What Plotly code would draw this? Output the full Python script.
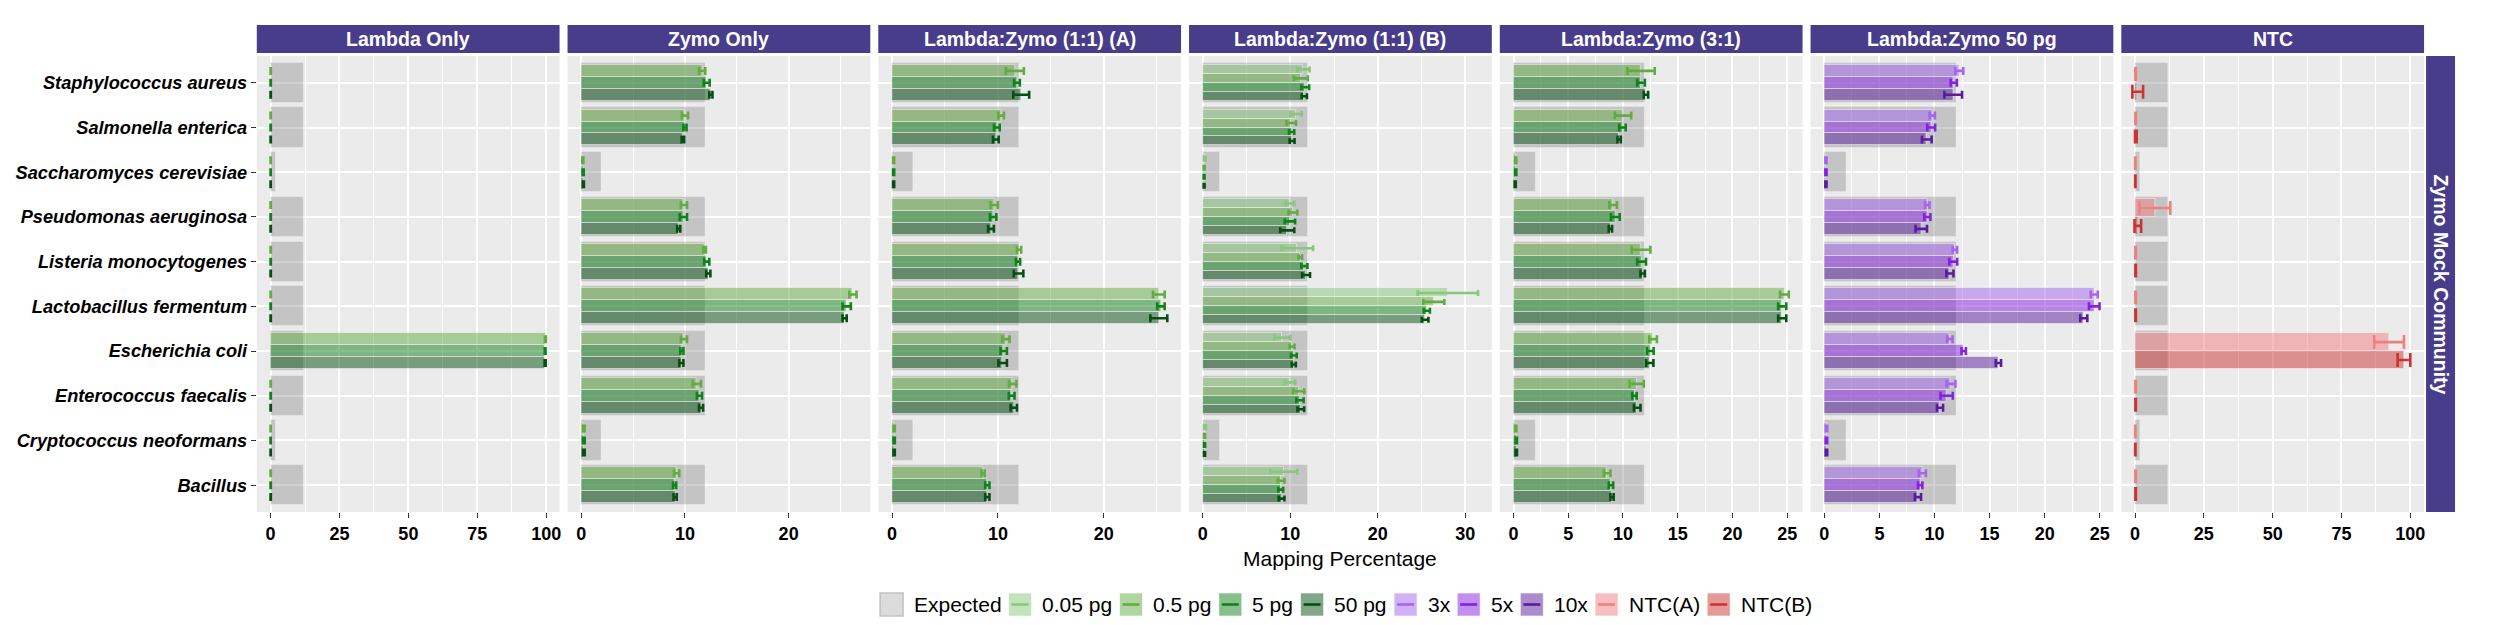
import plotly.graph_objects as go
from plotly.subplots import make_subplots

# ---------------- data ----------------
species = ["Staphylococcus aureus", "Salmonella enterica", "Saccharomyces cerevisiae",
           "Pseudomonas aeruginosa", "Listeria monocytogenes", "Lactobacillus fermentum",
           "Escherichia coli", "Enterococcus faecalis", "Cryptococcus neoformans", "Bacillus"]
expected = [12, 12, 2, 12, 12, 12, 12, 12, 2, 12]

panel_names = ["Lambda Only", "Zymo Only", "Lambda:Zymo (1:1) (A)", "Lambda:Zymo (1:1) (B)",
               "Lambda:Zymo (3:1)", "Lambda:Zymo 50 pg", "NTC"]
panel_dtick = [25, 10, 10, 10, 5, 5, 25]

# Lambda Only
lo_05 = [0.05, 0.05, 0.03, 0.05, 0.05, 0.05, 99.7, 0.05, 0.03, 0.05]
lo_05_sd = [0.05, 0.05, 0.03, 0.05, 0.05, 0.05, 0.15, 0.05, 0.03, 0.05]
lo_5 = [0.05, 0.05, 0.03, 0.05, 0.05, 0.05, 99.6, 0.05, 0.03, 0.05]
lo_5_sd = [0.05, 0.05, 0.03, 0.05, 0.05, 0.05, 0.15, 0.05, 0.03, 0.05]
lo_50 = [0.05, 0.05, 0.03, 0.05, 0.05, 0.05, 99.6, 0.05, 0.03, 0.05]
lo_50_sd = [0.05, 0.05, 0.03, 0.05, 0.05, 0.05, 0.2, 0.05, 0.03, 0.05]

# Zymo Only
zo_05 = [11.66, 10.0, 0.15, 9.9, 11.9, 26.2, 9.9, 11.15, 0.25, 9.2]
zo_05_sd = [0.3, 0.3, 0.05, 0.3, 0.12, 0.35, 0.3, 0.4, 0.08, 0.25]
zo_5 = [12.1, 10.0, 0.18, 9.85, 12.1, 25.6, 9.7, 11.4, 0.25, 9.0]
zo_5_sd = [0.28, 0.15, 0.05, 0.35, 0.25, 0.4, 0.15, 0.25, 0.08, 0.15]
zo_50 = [12.5, 9.8, 0.2, 9.4, 12.25, 25.4, 9.65, 11.55, 0.25, 9.05]
zo_50_sd = [0.15, 0.12, 0.05, 0.15, 0.2, 0.2, 0.2, 0.2, 0.08, 0.15]

# Lambda:Zymo (1:1) (A)
a_05 = [11.6, 10.3, 0.15, 9.65, 12.0, 25.2, 10.75, 11.4, 0.2, 8.6]
a_05_sd = [0.85, 0.27, 0.05, 0.35, 0.2, 0.55, 0.35, 0.35, 0.06, 0.15]
a_5 = [11.8, 9.9, 0.15, 9.55, 11.9, 25.4, 10.55, 11.3, 0.2, 9.0]
a_5_sd = [0.27, 0.27, 0.05, 0.3, 0.2, 0.35, 0.3, 0.27, 0.06, 0.2]
a_50 = [12.2, 9.8, 0.15, 9.35, 11.95, 25.2, 10.45, 11.5, 0.2, 9.0]
a_50_sd = [0.75, 0.27, 0.05, 0.27, 0.45, 0.8, 0.4, 0.3, 0.06, 0.2]

# Lambda:Zymo (1:1) (B)
b_005 = [11.5, 10.65, 0.23, 9.95, 10.8, 28.0, 9.1, 9.95, 0.25, 9.25]
b_005_sd = [0.7, 0.65, 0.1, 0.5, 1.8, 3.45, 0.9, 0.6, 0.1, 1.55]
b_05 = [11.2, 10.1, 0.15, 10.3, 11.15, 26.4, 10.2, 10.95, 0.2, 8.95]
b_05_sd = [0.8, 0.55, 0.05, 0.5, 0.2, 1.2, 0.28, 0.65, 0.06, 0.38]
b_5 = [11.7, 10.15, 0.15, 9.95, 11.6, 25.6, 10.4, 11.1, 0.2, 8.9]
b_5_sd = [0.45, 0.3, 0.05, 0.6, 0.35, 0.35, 0.33, 0.42, 0.06, 0.28]
b_50 = [11.6, 10.2, 0.15, 9.65, 11.8, 25.4, 10.4, 11.2, 0.2, 9.0]
b_50_sd = [0.3, 0.28, 0.05, 0.8, 0.45, 0.38, 0.23, 0.38, 0.06, 0.33]

# Lambda:Zymo (3:1)
c_05 = [11.65, 10.0, 0.2, 9.1, 11.65, 24.75, 12.75, 11.25, 0.2, 8.55]
c_05_sd = [1.25, 0.75, 0.05, 0.35, 0.85, 0.4, 0.35, 0.65, 0.06, 0.3]
c_5 = [11.65, 9.95, 0.2, 9.3, 11.7, 24.55, 12.5, 11.05, 0.25, 8.9]
c_5_sd = [0.35, 0.3, 0.05, 0.4, 0.4, 0.37, 0.3, 0.2, 0.06, 0.2]
c_50 = [12.1, 9.65, 0.15, 8.85, 11.8, 24.55, 12.45, 11.3, 0.25, 9.0]
c_50_sd = [0.2, 0.15, 0.05, 0.15, 0.2, 0.37, 0.33, 0.3, 0.06, 0.15]

# Lambda:Zymo 50 pg
d_3x = [12.25, 9.8, 0.15, 9.35, 11.85, 24.5, 11.4, 11.5, 0.2, 8.9]
d_3x_sd = [0.36, 0.24, 0.05, 0.2, 0.2, 0.32, 0.24, 0.4, 0.06, 0.32]
d_5x = [11.75, 9.7, 0.15, 9.35, 11.7, 24.5, 12.65, 11.1, 0.2, 8.7]
d_5x_sd = [0.28, 0.36, 0.05, 0.28, 0.36, 0.48, 0.2, 0.56, 0.06, 0.2]
d_10x = [11.7, 9.3, 0.15, 8.8, 11.4, 23.55, 15.8, 10.5, 0.2, 8.5]
d_10x_sd = [0.8, 0.44, 0.05, 0.52, 0.32, 0.32, 0.24, 0.28, 0.06, 0.28]

# NTC
n_a = [0.2, 0.2, 0.1, 7.2, 0.2, 0.2, 92.3, 0.2, 0.1, 0.2]
n_a_sd = [0.1, 0.1, 0.05, 5.6, 0.1, 0.1, 5.4, 0.1, 0.05, 0.1]
n_b = [0.97, 0.3, 0.1, 1.0, 0.2, 0.2, 97.7, 0.2, 0.1, 0.2]
n_b_sd = [1.95, 0.3, 0.05, 1.2, 0.1, 0.1, 2.3, 0.1, 0.05, 0.1]

panel_series = [
    [("0.5 pg", lo_05, lo_05_sd), ("5 pg", lo_5, lo_5_sd), ("50 pg", lo_50, lo_50_sd)],
    [("0.5 pg", zo_05, zo_05_sd), ("5 pg", zo_5, zo_5_sd), ("50 pg", zo_50, zo_50_sd)],
    [("0.5 pg", a_05, a_05_sd), ("5 pg", a_5, a_5_sd), ("50 pg", a_50, a_50_sd)],
    [("0.05 pg", b_005, b_005_sd), ("0.5 pg", b_05, b_05_sd), ("5 pg", b_5, b_5_sd), ("50 pg", b_50, b_50_sd)],
    [("0.5 pg", c_05, c_05_sd), ("5 pg", c_5, c_5_sd), ("50 pg", c_50, c_50_sd)],
    [("3x", d_3x, d_3x_sd), ("5x", d_5x, d_5x_sd), ("10x", d_10x, d_10x_sd)],
    [("NTC(A)", n_a, n_a_sd), ("NTC(B)", n_b, n_b_sd)],
]

legend_order = ["Expected", "0.05 pg", "0.5 pg", "5 pg", "50 pg", "3x", "5x", "10x", "NTC(A)", "NTC(B)"]
series_rgb = {
    "0.05 pg": (136, 200, 124),
    "0.5 pg": (98, 172, 66),
    "5 pg": (16, 130, 26),
    "50 pg": (6, 78, 18),
    "3x": (165, 101, 240),
    "5x": (132, 34, 226),
    "10x": (88, 28, 158),
    "NTC(A)": (240, 128, 128),
    "NTC(B)": (205, 51, 51),
}

# ---------------- style ----------------
W, H = 2500, 625
left0, pw, gap = 257, 303, 8
ptop, pbot = 56, 512
strip_top, strip_bot = 25, 53
STRIP = "#483D8B"
SANS = "Liberation Sans, Arial, Helvetica, sans-serif"

fig = make_subplots(rows=1, cols=7, shared_yaxes=True)

cat_order = species[::-1]
for p, series in enumerate(panel_series):
    col = p + 1
    fig.add_trace(go.Bar(
        x=expected, y=species, orientation="h", width=0.9, name="Expected",
        showlegend=False,
        marker=dict(color="rgba(127,127,127,0.36)", line=dict(color="rgba(255,255,255,0.25)", width=1)),
        hoverinfo="x+y"), row=1, col=col)
    n = len(series)
    w = 0.8 / n
    cap = {2: 7, 3: 4, 4: 3}[n]
    for j, (name, vals, sd) in enumerate(series):
        r, g, b = series_rgb[name]
        fig.add_trace(go.Bar(
            x=vals, y=species, orientation="h", width=w, offset=0.4 - (j + 1) * w,
            name=name, showlegend=False,
            marker=dict(color=f"rgba({r},{g},{b},0.5)",
                        line=dict(color="rgba(255,255,255,0.45)", width=1)),
            error_x=dict(type="data", array=sd, visible=True, color=f"rgb({r},{g},{b})",
                         thickness=2.6, width=cap)), row=1, col=col)

    # axis range like ggplot (5% expansion of data extent)
    m = max([max(v + s for v, s in zip(vals, sd)) for _, vals, sd in series] + [max(expected)])
    x0 = left0 + p * (pw + gap)
    dt = panel_dtick[p]
    fig.update_xaxes(
        domain=[x0 / W, (x0 + pw) / W], range=[-0.05 * m, 1.05 * m],
        tick0=0, dtick=dt, showgrid=True, gridcolor="white", gridwidth=1.8,
        minor=dict(dtick=dt / 2, tick0=0, showgrid=True, gridcolor="white", gridwidth=0.9),
        zeroline=False, ticks="outside", ticklen=5, tickwidth=1.3, tickcolor="#333333",
        tickfont=dict(family=SANS, size=18, color="black", weight="bold"),
        showline=False, row=1, col=col)
    # strip
    fig.add_shape(type="rect", xref="paper", yref="paper",
                  x0=x0 / W, x1=(x0 + pw) / W, y0=1 - strip_bot / H, y1=1 - strip_top / H,
                  fillcolor=STRIP, line=dict(width=0), layer="above")
    fig.add_annotation(xref="paper", yref="paper", x=(x0 + pw / 2) / W,
                       y=1 - (strip_top + strip_bot) / 2 / H, text=panel_names[p],
                       showarrow=False, font=dict(family=SANS, size=19.5, color="white", weight="bold"),
                       xanchor="center", yanchor="middle")

fig.update_yaxes(domain=[1 - pbot / H, 1 - ptop / H], type="category",
                 categoryorder="array", categoryarray=cat_order, range=[-0.6, 9.6],
                 showgrid=True, gridcolor="white", gridwidth=1.8, zeroline=False)
fig.update_yaxes(ticks="outside", ticklen=5, tickwidth=1.3, tickcolor="#333333",
                 tickfont=dict(family=SANS, size=18.2, color="black", weight="bold", style="italic"),
                 row=1, col=1)

# right strip
right_x0 = left0 + 6 * (pw + gap) + pw + 2
fig.add_shape(type="rect", xref="paper", yref="paper",
              x0=right_x0 / W, x1=(right_x0 + 29) / W, y0=1 - pbot / H, y1=1 - ptop / H,
              fillcolor=STRIP, line=dict(width=0))
fig.add_annotation(xref="paper", yref="paper", x=(right_x0 + 14.5) / W,
                   y=1 - (ptop + pbot) / 2 / H, text="Zymo Mock Community", textangle=90,
                   showarrow=False, font=dict(family=SANS, size=19.5, color="white", weight="bold"),
                   xanchor="center", yanchor="middle")

center_px = (left0 + 6 * (pw + gap) + pw + left0) / 2
fig.add_annotation(xref="paper", yref="paper", x=center_px / W, y=1 - 558 / H,
                   text="Mapping Percentage", showarrow=False,
                   font=dict(family=SANS, size=21, color="black"),
                   xanchor="center", yanchor="middle")

# ---------------- legend (ggplot-style keys) ----------------
ARIAL_W = {"0": .556, ".": .278, "5": .556, "1": .556, "3": .556, " ": .278, "p": .556, "g": .556,
           "x": .5, "E": .667, "e": .556, "c": .5, "t": .278, "d": .556, "N": .722, "T": .611,
           "C": .722, "(": .333, ")": .333, "A": .667, "B": .667}
LFS = 21
KEY = 23
def text_w(s):
    return sum(ARIAL_W.get(ch, 0.556) for ch in s) * LFS

item_gap = 9.5
widths = [KEY + 8.5 + text_w(s) for s in legend_order]
total = sum(widths) + item_gap * (len(widths) - 1)
lx = 1346 - total / 2
ly0, ly1 = 593, 616
for name, wdt in zip(legend_order, widths):
    if name == "Expected":
        fig.add_shape(type="rect", xref="paper", yref="paper",
                      x0=lx / W, x1=(lx + KEY) / W, y0=1 - ly1 / H, y1=1 - ly0 / H,
                      fillcolor="#DCDCDC", line=dict(color="#C2C2C2", width=1.5))
    else:
        r, g, b = series_rgb[name]
        fig.add_shape(type="rect", xref="paper", yref="paper",
                      x0=lx / W, x1=(lx + KEY) / W, y0=1 - ly1 / H, y1=1 - ly0 / H,
                      fillcolor=f"rgba({r},{g},{b},0.5)", line=dict(color="rgba(255,255,255,0.6)", width=1))
        fig.add_shape(type="line", xref="paper", yref="paper",
                      x0=(lx + 3) / W, x1=(lx + KEY - 3) / W,
                      y0=1 - (ly0 + ly1) / 2 / H, y1=1 - (ly0 + ly1) / 2 / H,
                      line=dict(color=f"rgb({r},{g},{b})", width=2.6))
    fig.add_annotation(xref="paper", yref="paper", x=(lx + KEY + 8.5) / W, y=1 - (ly0 + ly1) / 2 / H,
                       text=name, showarrow=False, xanchor="left", yanchor="middle",
                       font=dict(family=SANS, size=LFS, color="black"))
    lx += wdt + item_gap

fig.update_layout(
    width=W, height=H, margin=dict(l=0, r=0, t=0, b=0),
    paper_bgcolor="white", plot_bgcolor="#EBEBEB",
    barmode="overlay", bargap=0, showlegend=False,
)

fig.write_html("out.html")
